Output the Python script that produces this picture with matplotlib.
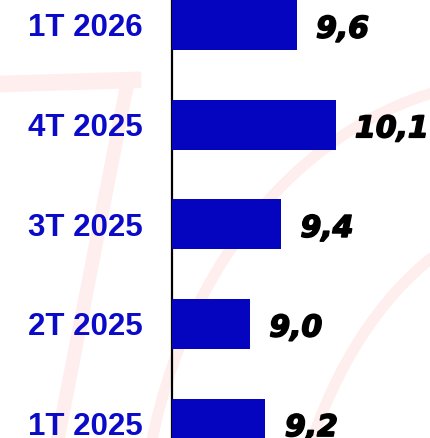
import matplotlib.pyplot as plt
import numpy as np
from matplotlib.patches import Arc
from matplotlib.lines import Line2D
import matplotlib.patheffects as pe

# data (top to bottom)
quarters = ["1T 2026", "4T 2025", "3T 2025", "2T 2025", "1T 2025"]
values = [9.6, 10.1, 9.4, 9.0, 9.2]
labels = ["9,6", "10,1", "9,4", "9,0", "9,2"]

W, H = 431, 438
fig = plt.figure(figsize=(W / 100, H / 100), dpi=100)
fig.patch.set_facecolor("white")

# faint pink watermark behind the chart
wm = "#FFEEEE"
fig.add_artist(Line2D([0 / W, 133 / W], [1 - 84 / H, 1 - 80 / H], color=wm, lw=12, transform=fig.transFigure, zorder=0))
fig.add_artist(Line2D([128 / W, 58 / W], [1 - 80 / H, 1 - 438 / H], color=wm, lw=10, transform=fig.transFigure, zorder=0))
fig.add_artist(Arc((520 / W, 1 - 560 / H), 760 / W, 960 / H, theta1=95, theta2=175,
                   color=wm, lw=8, transform=fig.transFigure, zorder=0))
fig.add_artist(Arc((560 / W, 1 - 640 / H), 560 / W, 860 / H, theta1=100, theta2=180,
                   color=wm, lw=8, transform=fig.transFigure, zorder=0))

x0 = 172 / W
ax = fig.add_axes([x0, 0, 1 - x0, 1])
ax.patch.set_alpha(0)

y = np.arange(len(quarters))
base = 8.0
ax.barh(y, np.array(values) - base, left=base, height=0.5, color="#0505C0", zorder=3)

for yi, v, lab in zip(y, values, labels):
    ax.annotate(lab, (v, yi), xytext=(14, -3), textcoords="offset points",
                ha="left", va="center", fontsize=21.5, fontweight="bold",
                style="italic", family="DejaVu Sans", color="black",
                path_effects=[pe.withStroke(linewidth=1.2, foreground="black")])

ax.set_xlim(base, base + (W - 172) / 77.9)
ax.set_ylim((H - 25) / 99.6, -25 / 99.6)

ax.set_yticks(y)
ax.set_yticklabels(quarters, fontsize=22.5, fontweight="bold",
                   family="Liberation Sans", color="#0A0AC8")
ax.tick_params(axis="y", length=0, pad=21)
ax.set_xticks([])
for s in ["top", "right", "bottom"]:
    ax.spines[s].set_visible(False)
ax.spines["left"].set_linewidth(1.6)
ax.spines["left"].set_color("black")

fig.savefig("out.png", dpi=100)
